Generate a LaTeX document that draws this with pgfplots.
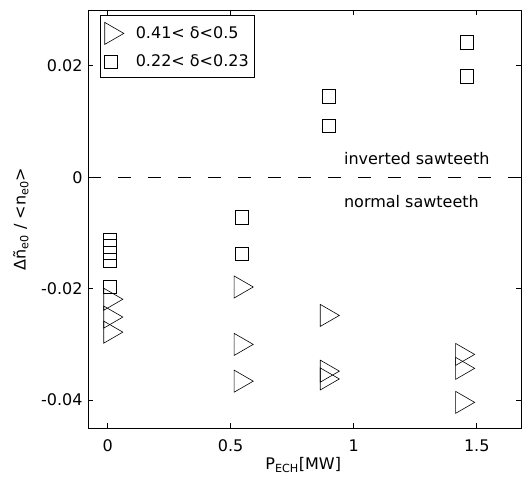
\documentclass[border=0pt]{standalone}
\usepackage{fontspec}
\setmainfont{DejaVu Sans}
\usepackage{pgfplots}
\pgfplotsset{compat=1.18}

% relative density change at the sawtooth crash vs. ECH power
\pgfplotstableread{
x      y
0.01  -0.0219
0.01  -0.0251
0.01  -0.0278
0.54  -0.0197
0.54  -0.0300
0.54  -0.0366
0.89  -0.0248
0.89  -0.0348
0.89  -0.0362
1.44  -0.0318
1.44  -0.0343
1.44  -0.0404
}\hightri

\pgfplotstableread{
x      y
0.01  -0.0113
0.01  -0.0124
0.01  -0.0136
0.01  -0.0149
0.01  -0.0197
0.545 -0.0072
0.545 -0.0138
0.90   0.0092
0.90   0.0145
1.46   0.0181
1.46   0.0242
}\lowsq

\begin{document}
\fontsize{16bp}{19bp}\selectfont
\begin{tikzpicture}
\begin{axis}[
  at={(88bp,50bp)}, anchor=south west,
  width=433bp, height=418bp, scale only axis,
  xmin=-0.08, xmax=1.68, ymin=-0.045, ymax=0.03,
  scaled y ticks=false, scaled x ticks=false,
  xtick={0,0.5,1,1.5}, xticklabels={0,0.5,1,1.5},
  ytick={-0.04,-0.02,0,0.02}, yticklabels={-0.04,-0.02,0,0.02},
  tick align=inside, major tick length=5bp,
  tick style={black, line width=0.8bp},
  axis line style={line width=0.9bp},
  ticklabel style={font=\fontsize{16bp}{19bp}\selectfont},
  xticklabel style={yshift=-6bp},
  xlabel={P\textsubscript{ECH}[MW]},
  xlabel style={at={(axis description cs:0.497,0)}, anchor=base, yshift=-42bp},
  ylabel={Δñ\textsubscript{e0} / <n\textsubscript{e0}>},
  ylabel style={at={(axis description cs:-0.155,0.5)}, anchor=center},
  label style={font=\fontsize{16bp}{19bp}\selectfont},
  legend style={at={(rel axis cs:0.028,0.988)}, anchor=north west,
    draw=black, line width=0.8bp, inner xsep=4bp, inner ysep=7bp,
    row sep=8bp, column sep=10bp, font=\fontsize{16bp}{19bp}\selectfont},
  legend cell align=left,
]
\addplot[only marks, mark=triangle, mark size=12.7bp, mark options={rotate=-90, line width=0.6bp}, black]
  table {\hightri};
\addlegendentry{0.41< δ<0.5}
\addplot[only marks, mark=square, mark size=6.6bp, mark options={line width=0.6bp}, black]
  table {\lowsq};
\addlegendentry{0.22< δ<0.23\hspace{4bp}}

% boundary between inverted and normal sawteeth
\draw[black, line width=0.8bp, dash pattern=on 13bp off 17bp]
  (axis cs:-0.08,0) -- (axis cs:1.68,0);
\node[anchor=base west, inner sep=0pt] at (axis cs:0.96,0.0023) {inverted sawteeth};
\node[anchor=base west, inner sep=0pt] at (axis cs:0.96,-0.0054) {normal sawteeth};
\end{axis}
% page frame
\path (0,0) rectangle (523bp,478bp);
\end{tikzpicture}
\end{document}
